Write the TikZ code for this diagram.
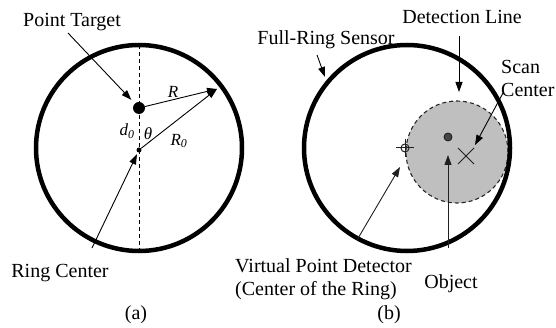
\documentclass[tikz,border=0pt]{standalone}
\usepackage{fontspec}
\setmainfont{Liberation Serif}
\usetikzlibrary{arrows.meta, positioning}

\begin{document}
\begin{tikzpicture}[
  x=1pt, y=-1pt,
  font=\fontsize{20}{23}\selectfont,
  >={Triangle[length=10pt, width=7pt]},
  ring/.style={draw, line width=4.5pt},
  arr/.style={->, line width=0.9pt},
  darr/.style={arr, color=gray!25!black},
  lbl/.style={inner sep=0pt, anchor=base},
  sym/.style={inner sep=0pt, font=\fontsize{17}{20}\selectfont\itshape},
  dot/.style={circle, fill, inner sep=0pt, minimum size=#1},
]
\useasboundingbox (0,0) rectangle (556,328);

%% ---------- Panel (a): point target in the ring ---------------
\coordinate (ringa) at (139,148);
\draw[ring] (ringa) circle[radius=103];
\coordinate (atop) at (139,45);
\coordinate (abot) at (139,251);
\draw[line width=0.9pt, dash pattern=on 4pt off 3pt] (atop) -- (abot);

\node[dot=12pt] (target) at (139,108) {};
\node[dot=5pt]  (rcenter) at (139,150) {};
\coordinate (hit) at (217,89);

\draw[arr] (target)  -- (hit);
\draw[arr] (rcenter) -- (hit);

\node[sym] (rlbl)  at (173,92)  {R};
\node[sym] (r0lbl) at (179,141) {R\textsubscript{0}};
\node[sym] (dlbl)  at (127,131) {d\textsubscript{0}};
\node[sym] (thlbl) at (148,134) {θ};

%% labels and pointers
\node[lbl] (ptlbl) at (72,27)  {Point Target};
\node[lbl] (rclbl) at (60,277) {Ring Center};
\node[lbl] (alabel) at (136,319) {(a)};
\coordinate (ptfoot) at (68,33);
\coordinate (rcfoot) at (92,248);
\draw[arr, shorten >=5pt] (ptfoot) -- (target);
\draw[arr, shorten >=2pt] (rcfoot) -- (rcenter);

%% ---------- Panel (b): full-ring sensor ------------------------
\coordinate (ringb) at (407,148);
\node[circle, inner sep=0pt, minimum size=102pt, fill=gray!50,
      draw=gray!30!black, line width=1.1pt,
      dash pattern=on 4pt off 3pt] (object) at (457,152) {};
\draw[ring] (ringb) circle[radius=103];

%% virtual point detector
\node[circle, draw=gray!25!black, line width=1pt, inner sep=0pt,
      minimum size=8pt] (vpd) at (405,148) {};
\draw[gray!25!black, line width=1pt] ([xshift=-9pt]vpd.center) -- ([xshift=9pt]vpd.center)
      ([yshift=-9pt]vpd.center) -- ([yshift=9pt]vpd.center);

\node[dot=8pt, fill=gray!55!black, draw=gray!20!black, line width=0.8pt] (objdot) at (448,137) {};
\coordinate (scan) at (466,156);
\draw[gray!25!black, line width=1pt] ([shift={(-8,-8)}]scan) -- ([shift={(8,8)}]scan)
      ([shift={(-8,8)}]scan) -- ([shift={(8,-8)}]scan);

%% labels and pointers
\node[lbl] (frlbl) at (326,45)  {Full-Ring Sensor};
\node[lbl] (dllbl) at (462,24)  {Detection Line};
\node[inner sep=0pt, anchor=north west, align=left] (sclbl) at (501,60.5) {Scan\\Center};
\node[inner sep=0pt, anchor=north west, align=left] (vplbl) at (235,258)
      {Virtual Point Detector\\(Center of the Ring)};
\node[lbl] (oblbl) at (451,288) {Object};
\node[lbl] (blabel) at (389,319) {(b)};

\coordinate (frfoot) at (317,55);
\coordinate (frtip)  at (325,77);
\coordinate (dlfoot) at (459,36);
\coordinate (dltip)  at (459,92);
\coordinate (scfoot) at (503,93);
\coordinate (sctip)  at (475,145);
\coordinate (vpfoot) at (357,240);
\coordinate (vptip)  at (400,167);
\coordinate (obfoot) at (448,248);
\coordinate (obtip)  at (448,155);

\draw[arr]  (frfoot) -- (frtip);
\draw[arr]  (dlfoot) -- (dltip);
\draw[arr]  (scfoot) -- (sctip);
\draw[darr] (vpfoot) -- (vptip);
\draw[darr] (obfoot) -- (obtip);
\end{tikzpicture}
\end{document}
